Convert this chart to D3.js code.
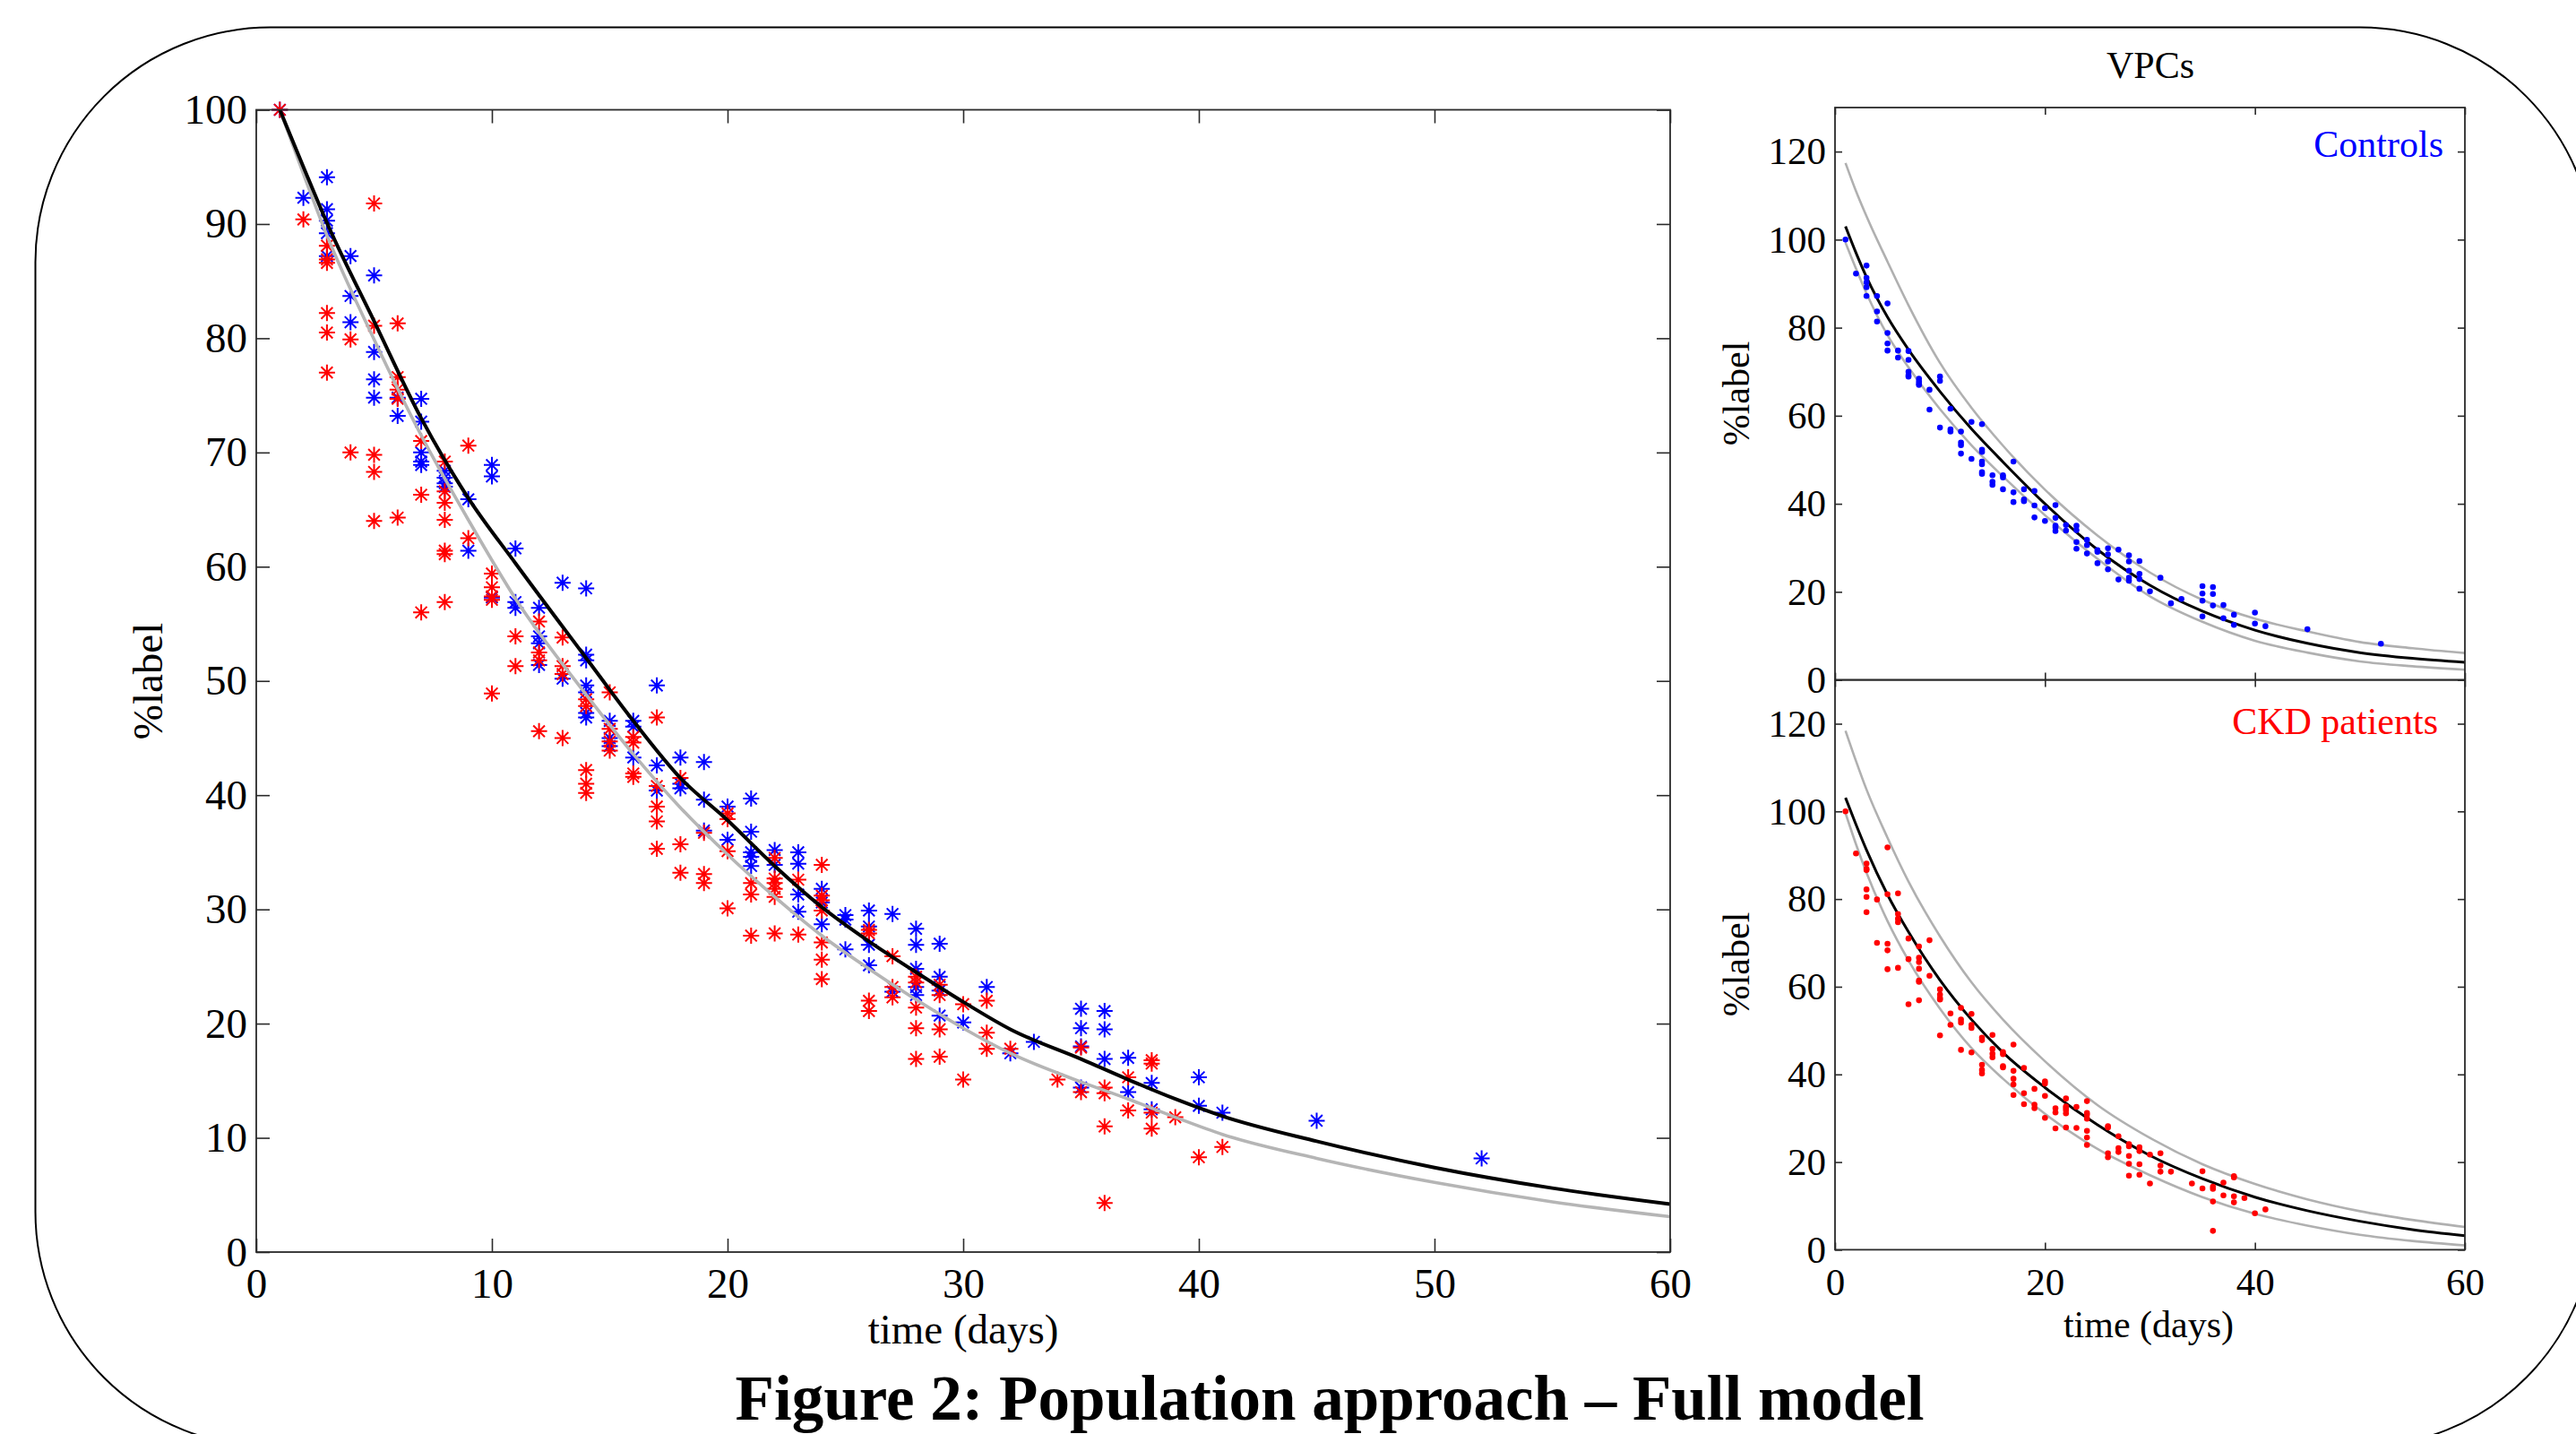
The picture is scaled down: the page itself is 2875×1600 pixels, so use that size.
<!DOCTYPE html>
<html>
<head>
<meta charset="utf-8">
<script src="https://cdn.jsdelivr.net/npm/d3@7/dist/d3.min.js"></script>
<style>
body { margin: 0; background: #fff; }
text { font-family: "Liberation Serif", "Times New Roman", serif; fill: #000; }
</style>
</head>
<body>
<script>
// observed %label per subject sample, controls (blue)
var ctrlDay = [1, 2, 3,3,3,3,3, 4,4,4, 5,5,5,5, 6,6, 7,7,7,7,7, 8,8,8,8, 9,9, 10,10,10,
    11,11,11, 12,12,12,12, 13,13, 14,14,14,14,14,14,14, 15,15,15, 16,16,16, 17,17,17,
    18,18,18, 19,19,19, 20,20, 21,21,21,21,21, 22,22, 23,23,23,23, 24,24,24, 25,25,25,
    26,26,26,26, 27,27, 28,28,28,28,28, 29,29,29,29, 30, 31, 32, 33, 35,35,35,35,
    36,36,36, 37,37, 38,38, 40,40, 41, 45, 52];
var ctrlPct = [100, 92.3, 94.1,91.3,90.3,89.2,87.2, 87.2,83.7,81.4, 85.5,78.8,76.4,74.8, 74.8,73.2,
    74.7,72.7,70.0,69.2,68.9, 68.4,67.8,67.3,67.0, 65.9,61.4, 68.9,67.9,57.3,
    61.6,56.9,56.4, 56.4,53.9,53.3,51.4, 58.6,50.2, 58.1,52.3,51.8,49.6,49.0,47.2,46.8,
    46.5,45.0,44.3, 46.5,46.0,43.3, 49.6,42.6,40.4, 43.3,41.0,40.6, 42.9,39.6,36.9,
    39.0,36.1, 39.7,36.8,35.0,34.6,33.8, 35.2,33.9, 35.0,34.0,31.3,29.8, 31.8,30.6,28.7,
    29.5,29.1,26.5, 29.9,28.5,26.9,25.1, 29.6,22.8, 28.3,26.9,24.8,23.2,22.5,
    27.0,24.1,22.9,20.7, 20.1, 23.2, 17.4, 18.4, 21.3,19.6,18.0,14.4, 21.1,19.5,16.9,
    17.0,14.0, 14.8,12.5, 15.3,12.8, 12.2, 11.5, 8.2];

// CKD patients (red)
var ckdDay = [1, 2, 3,3,3,3,3,3, 4,4, 5,5,5,5,5, 6,6,6,6,6, 7,7,7, 8,8,8,8,8,8,8, 9,9,
    10,10,10,10,10, 11,11, 12,12,12,12, 13,13,13,13, 14,14,14,14,14, 15,15,15,15,
    16,16,16,16, 17,17,17,17,17, 18,18,18, 19,19,19, 20,20,20,20, 21,21,21,
    22,22,22,22,22,22, 23,23, 24,24,24,24,24,24,24, 26,26,26,26, 27,27,27,
    28,28,28,28,28, 29,29,29,29, 30,30, 31,31,31, 32, 34, 35,35, 36,36,36,36,
    37,37, 38,38,38,38, 39, 40, 41];
var ckdPct = [100, 90.4, 88.1,86.9,86.6,82.2,80.5,77.0, 79.9,70.0, 91.8,81.1,69.8,68.3,64.0,
    81.3,76.6,75.5,74.7,64.3, 71.0,66.3,56.0, 69.2,66.6,65.6,64.1,61.4,61.1,56.9, 70.6,62.5,
    59.4,58.2,57.4,57.1,48.9, 53.9,51.3, 55.2,52.5,51.8,45.6, 53.8,51.3,50.6,45.0,
    48.4,47.8,42.2,41.0,40.2, 49.0,45.8,44.7,43.9, 45.1,44.6,41.9,41.6,
    46.8,40.8,39.0,37.7,35.3, 41.5,35.7,33.2, 36.7,33.1,32.3, 38.4,37.9,35.1,30.1,
    32.3,31.3,27.7, 34.5,32.7,32.3,31.8,31.1,27.9, 32.6,27.8,
    33.9,31.2,30.8,29.9,27.1,25.6,23.9, 28.2,27.9,22.0,21.1, 25.9,23.2,22.3,
    24.1,23.6,21.4,19.6,16.9, 23.4,22.5,19.5,17.1, 21.7,15.1, 22.0,19.2,17.8, 17.8, 15.1,
    17.9,14.0, 14.4,13.9,11.0,4.3, 15.3,12.4, 16.8,16.5,12.2,10.8, 11.8, 8.3, 9.2];

// population fits
var fitDay  = [1, 2, 3, 5, 7, 9, 11, 14, 16, 18, 20, 22, 24, 26, 28, 30, 32, 35, 37, 39, 41, 45, 50, 55, 60];
var fitFull = [100, 95.0, 90.1, 81.5, 73.0, 66.0, 60.3, 52.0, 46.5, 41.5, 37.8, 33.8, 30.2, 27.2, 24.5,
    21.9, 19.5, 16.9, 15.1, 13.4, 11.9, 9.7, 7.4, 5.6, 4.2];
var fitGrey = [100, 94.4, 89.0, 79.9, 71.5, 64.1, 57.2, 48.8, 43.6, 38.9, 34.8, 31.1, 27.7, 24.8, 22.1,
    19.6, 17.4, 14.9, 13.4, 11.8, 10.3, 8.2, 6.1, 4.4, 3.1];

// VPC median and interval lines
var vpcDay  = [1, 2, 3, 5, 7, 10, 13, 16, 20, 25, 30, 35, 40, 45, 50, 55, 60];
var ctrlMed = [103.0, 97.0, 91.5, 82.4, 75.0, 65.5, 57.0, 49.5, 40.0, 29.6, 21.5, 15.6, 11.3, 8.3, 6.2, 4.9, 4.0];
var ctrlHi  = [117.4, 111.0, 105.3, 95.0, 85.1, 72.0, 61.8, 53.2, 43.2, 32.8, 24.4, 18.2, 13.9, 11.0, 8.6, 7.2, 6.1];
var ctrlLo  = [99.3, 93.4, 87.8, 78.3, 71.0, 61.5, 53.3, 46.2, 37.4, 27.5, 19.0, 13.2, 8.9, 6.2, 4.2, 3.1, 2.3];
var ckdMed  = [103.1, 97.0, 91.2, 81.0, 72.5, 61.5, 52.5, 45.0, 37.0, 28.5, 21.5, 16.2, 12.0, 8.9, 6.5, 4.6, 3.2];
var ckdHi   = [118.4, 111.5, 105.0, 94.0, 84.0, 71.5, 61.0, 52.5, 43.0, 33.0, 25.5, 19.5, 15.0, 11.5, 8.8, 6.8, 5.2];
var ckdLo   = [99.6, 92.5, 86.0, 75.0, 66.0, 55.0, 46.0, 39.0, 31.0, 23.0, 17.0, 12.0, 8.2, 5.5, 3.4, 2.0, 1.0];

var mainXTicks = [0, 10, 20, 30, 40, 50, 60];
var mainYTicks = [0, 10, 20, 30, 40, 50, 60, 70, 80, 90, 100];
var vpcXTicks = [0, 20, 40, 60];
var vpcYTicks = [0, 20, 40, 60, 80, 100, 120];

function pairs(xs, ys) {
    return xs.map(function(d, i) { return [d, ys[i]]; });
}

var svg = d3.select("body").append("svg")
    .attr("width", 2875)
    .attr("height", 1600);

// rounded frame round the whole figure
svg.append("rect")
    .attr("x", 39.5).attr("y", 30.6)
    .attr("width", 2856.5).attr("height", 1583.4)
    .attr("rx", 262).attr("ry", 262)
    .attr("fill", "none")
    .attr("stroke", "#000")
    .attr("stroke-width", 2);

// matlab style box: ticks inside on all four sides
function drawAxes(x, y, xt, yt, len, fs, xPad, showX) {
    var x0 = x.range()[0], x1 = x.range()[1],
        y0 = y.range()[0], y1 = y.range()[1];
    var g = svg.append("g");

    g.append("g").attr("transform", "translate(" + x0 + ",0)")
        .call(d3.axisLeft(y).tickValues(yt).tickSize(-len).tickPadding(10));
    g.append("g").attr("transform", "translate(" + x1 + ",0)")
        .call(d3.axisRight(y).tickValues(yt).tickSize(-len).tickFormat(""));
    g.append("g").attr("transform", "translate(0," + y0 + ")")
        .call(d3.axisBottom(x).tickValues(xt).tickSize(-len).tickPadding(xPad)
              .tickFormat(showX ? d3.format("d") : ""));
    g.append("g").attr("transform", "translate(0," + y1 + ")")
        .call(d3.axisTop(x).tickValues(xt).tickSize(-len).tickFormat(""));

    g.selectAll(".domain").remove();
    g.selectAll(".tick line").attr("stroke", "#2a2a2a").attr("stroke-width", 1.6);
    g.selectAll("text").style("font-size", fs + "px");

    g.append("rect")
        .attr("x", x0).attr("y", y1)
        .attr("width", x1 - x0).attr("height", y0 - y1)
        .attr("fill", "none")
        .attr("stroke", "#2a2a2a")
        .attr("stroke-width", 1.8);
}

function drawLine(x, y, xs, ys, color, w) {
    svg.append("path")
        .datum(pairs(xs, ys))
        .attr("fill", "none")
        .attr("stroke", color)
        .attr("stroke-width", w)
        .attr("d", d3.line()
              .curve(d3.curveMonotoneX)
              .x(function(d) { return x(d[0]); })
              .y(function(d) { return y(d[1]); }));
}

function drawStars(x, y, xs, ys, color) {
    var a = 9, b = 6.4;
    var star = "M" + (-a) + ",0L" + a + ",0M0," + (-a) + "L0," + a +
        "M" + (-b) + "," + (-b) + "L" + b + "," + b + "M" + (-b) + "," + b + "L" + b + "," + (-b);
    svg.append("g").selectAll("path")
        .data(pairs(xs, ys))
        .enter()
        .append("path")
        .attr("transform", function(d) { return "translate(" + x(d[0]) + "," + y(d[1]) + ")"; })
        .attr("d", star)
        .attr("fill", "none")
        .attr("stroke", color)
        .attr("stroke-width", 2);
}

function drawDots(x, y, xs, ys, color) {
    svg.append("g").selectAll("circle")
        .data(pairs(xs, ys))
        .enter()
        .append("circle")
        .attr("cx", function(d) { return x(d[0]); })
        .attr("cy", function(d) { return y(d[1]); })
        .attr("r", 3.3)
        .attr("fill", color);
}

// ---- main panel ----
var x = d3.scaleLinear().domain([0, 60]).range([286, 1864]);
var y = d3.scaleLinear().domain([0, 100]).range([1397, 122.5]);

drawStars(x, y, ctrlDay, ctrlPct, "#0000ff");
drawStars(x, y, ckdDay, ckdPct, "#ff0000");
drawLine(x, y, fitDay, fitGrey, "#b5b5b5", 3.6);
drawLine(x, y, fitDay, fitFull, "#000", 4);
drawAxes(x, y, mainXTicks, mainYTicks, 15, 47, 18, true);

svg.append("text")
    .attr("transform", "translate(181,760) rotate(-90)")
    .attr("text-anchor", "middle")
    .style("font-size", "47px")
    .text("%label");
svg.append("text")
    .attr("x", 1075).attr("y", 1499)
    .attr("text-anchor", "middle")
    .style("font-size", "47px")
    .text("time (days)");

// ---- VPC panels ----
var vx = d3.scaleLinear().domain([0, 60]).range([2048, 2751]);
var yTop = d3.scaleLinear().domain([0, 130]).range([758.6, 120]);
var yBot = d3.scaleLinear().domain([0, 130]).range([1394.4, 758.6]);

drawLine(vx, yTop, vpcDay, ctrlHi, "#b0b0b0", 2.6);
drawLine(vx, yTop, vpcDay, ctrlLo, "#b0b0b0", 2.6);
drawLine(vx, yTop, vpcDay, ctrlMed, "#000", 3);
drawDots(vx, yTop, ctrlDay, ctrlPct, "#0000ff");
drawAxes(vx, yTop, vpcXTicks, vpcYTicks, 8, 43, 20, false);

drawLine(vx, yBot, vpcDay, ckdHi, "#b0b0b0", 2.6);
drawLine(vx, yBot, vpcDay, ckdLo, "#b0b0b0", 2.6);
drawLine(vx, yBot, vpcDay, ckdMed, "#000", 3);
drawDots(vx, yBot, ckdDay, ckdPct, "#ff0000");
drawAxes(vx, yBot, vpcXTicks, vpcYTicks, 8, 43, 20, true);

svg.append("text")
    .attr("x", 2400).attr("y", 87)
    .attr("text-anchor", "middle")
    .style("font-size", "42px")
    .text("VPCs");
svg.append("text")
    .attr("x", 2727).attr("y", 175)
    .attr("text-anchor", "end")
    .style("font-size", "42px")
    .style("fill", "#0000ff")
    .text("Controls");
svg.append("text")
    .attr("x", 2721).attr("y", 819)
    .attr("text-anchor", "end")
    .style("font-size", "42px")
    .style("fill", "#ff0000")
    .text("CKD patients");

[439, 1076].forEach(function(cy) {
    svg.append("text")
        .attr("transform", "translate(1952," + cy + ") rotate(-90)")
        .attr("text-anchor", "middle")
        .style("font-size", "42px")
        .text("%label");
});
svg.append("text")
    .attr("x", 2398).attr("y", 1492)
    .attr("text-anchor", "middle")
    .style("font-size", "42px")
    .text("time (days)");

// caption
svg.append("text")
    .attr("x", 1484).attr("y", 1584)
    .attr("text-anchor", "middle")
    .style("font-size", "71px")
    .style("font-weight", "bold")
    .text("Figure 2: Population approach \u2013 Full model");
</script>
</body>
</html>
